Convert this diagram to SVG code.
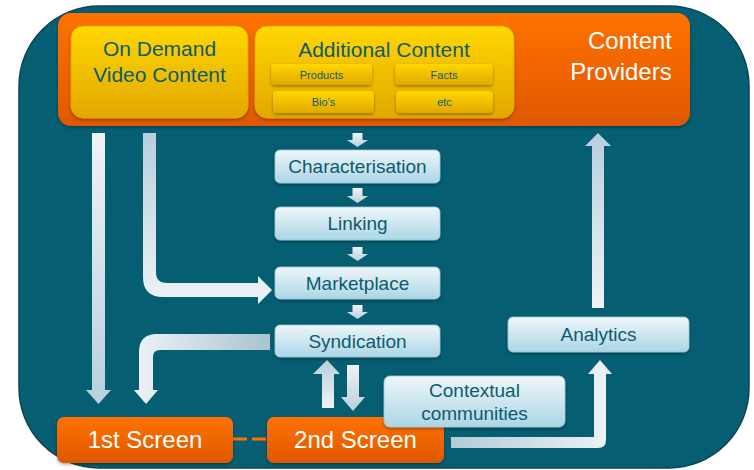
<svg xmlns="http://www.w3.org/2000/svg" width="754" height="470" viewBox="0 0 754 470">
<style>
.t{font-family:"Liberation Sans",Arial,sans-serif;text-anchor:middle}
.dk{fill:#0f5b6e}
.wt{fill:#ffffff}
.proc{fill:url(#gBox);stroke:#9cc6d6;stroke-width:0.8}
.arr{fill:url(#gArrV)}
</style>
<defs>
<linearGradient id="gOr" x1="0" y1="0" x2="0" y2="1"><stop offset="0" stop-color="#ff7200"/><stop offset="1" stop-color="#e05800"/></linearGradient>
<linearGradient id="gYe" x1="0" y1="0" x2="0" y2="1"><stop offset="0" stop-color="#ffd700"/><stop offset="1" stop-color="#e2a800"/></linearGradient>
<linearGradient id="gBox" x1="0" y1="0" x2="0" y2="1"><stop offset="0" stop-color="#eef6f9"/><stop offset="1" stop-color="#acd6e6"/></linearGradient>
<linearGradient id="gArrV" x1="0" y1="0" x2="0" y2="1"><stop offset="0" stop-color="#eef3f6"/><stop offset="1" stop-color="#b9d0dc"/></linearGradient>
<linearGradient id="gArrV2" x1="0" y1="0" x2="0" y2="1"><stop offset="0" stop-color="#b8cfdb"/><stop offset="1" stop-color="#eef3f6"/></linearGradient>
<linearGradient id="gArrH" x1="1" y1="0" x2="0" y2="0"><stop offset="0" stop-color="#a9c3d1"/><stop offset="1" stop-color="#eef3f6"/></linearGradient>
<linearGradient id="gArrH2" x1="0" y1="0" x2="1" y2="0"><stop offset="0" stop-color="#b3cbd8"/><stop offset="1" stop-color="#eef3f6"/></linearGradient>
<filter id="sh" x="-10%" y="-10%" width="120%" height="130%"><feDropShadow dx="0" dy="1.5" stdDeviation="1.5" flood-color="#000" flood-opacity="0.35"/></filter>
</defs>
<rect x="19" y="6" width="730" height="462" rx="80" ry="80" fill="#065e72" stroke="#0b4656" stroke-width="1.5"/>

<g id="content-providers">
<rect x="58" y="13" width="632" height="113" rx="13" fill="url(#gOr)" filter="url(#sh)"/>
<text class="t wt" x="630" y="49" font-size="24">Content</text>
<text class="t wt" x="621" y="80" font-size="24">Providers</text>
</g>

<g id="on-demand">
<rect x="71" y="26" width="177" height="92" rx="12" fill="url(#gYe)" stroke="#e8a400" stroke-width="1" filter="url(#sh)"/>
<text class="t dk" x="159.5" y="56" font-size="21">On Demand</text>
<text class="t dk" x="159.5" y="82" font-size="21">Video Content</text>
</g>

<g id="additional-content">
<rect x="255" y="26" width="259" height="92" rx="12" fill="url(#gYe)" stroke="#e8a400" stroke-width="1" filter="url(#sh)"/>
<text class="t dk" x="384" y="57" font-size="21">Additional Content</text>
<g id="products"><rect x="271" y="64" width="101" height="21" rx="4" fill="url(#gYe)" filter="url(#sh)"/><text class="t dk" x="321.5" y="78.5" font-size="11">Products</text></g>
<g id="bios"><rect x="273" y="91" width="101" height="22" rx="4" fill="url(#gYe)" filter="url(#sh)"/><text class="t dk" x="323.5" y="106" font-size="11">Bio’s</text></g>
<g id="facts"><rect x="395" y="64" width="98" height="21" rx="4" fill="url(#gYe)" filter="url(#sh)"/><text class="t dk" x="444" y="78.5" font-size="11">Facts</text></g>
<g id="etc"><rect x="396" y="91" width="97" height="22" rx="4" fill="url(#gYe)" filter="url(#sh)"/><text class="t dk" x="444.5" y="106" font-size="11">etc</text></g>
</g>

<g id="connectors">
<polygon class="arr" points="352.5,133 362.5,133 362.5,140 368,140 357.5,147 347,140 352.5,140"/>
<polygon class="arr" points="352.5,188 362.5,188 362.5,196 368,196 357.5,203 347,196 352.5,196"/>
<polygon class="arr" points="352.5,247 362.5,247 362.5,254 368,254 357.5,261 347,254 352.5,254"/>
<polygon class="arr" points="352.5,305 362.5,305 362.5,312 368,312 357.5,319 347,312 352.5,312"/>
<polygon class="arr" points="92,133 105,133 105,390 111,390 98.5,404 86,390 92,390"/>
<path fill="url(#gArrV2)" d="M143,133 L156,133 L156,272 Q156,283 167,283 L258,283 L258,276 L272,290 L258,304 L258,297 L163,297 Q143,297 143,277 Z"/>
<path fill="url(#gArrH)" d="M270,334 L270,350 L160,350 Q153,350 153,357 L153,390 L158,390 L146,404 L134,390 L139,390 L139,352 Q139,334 157,334 Z"/>
<polygon fill="url(#gArrV2)" points="322,408 334,408 334,374 340,374 327,360 313,374 322,374"/>
<polygon class="arr" points="347,365 359,365 359,397 365,397 353,411 341,397 347,397"/>
<path fill="url(#gArrH2)" d="M451,437 L594,437 L594,374 L588,374 L600,360 L612,374 L606,374 L606,440 Q606,448 598,448 L451,448 Z"/>
<polygon fill="url(#gArrV2)" points="592,308 604,308 604,146 611,146 598,133 585,146 592,146"/>
<line x1="233" y1="439" x2="267" y2="439" stroke="#ff7000" stroke-width="3" stroke-dasharray="14 5"/>
</g>

<g id="characterisation"><rect class="proc" x="275" y="150" width="165" height="33" rx="5" filter="url(#sh)"/><text class="t dk" x="357.5" y="173" font-size="19">Characterisation</text></g>
<g id="linking"><rect class="proc" x="275" y="207" width="165" height="33" rx="5" filter="url(#sh)"/><text class="t dk" x="357.5" y="230" font-size="19">Linking</text></g>
<g id="marketplace"><rect class="proc" x="275" y="267" width="165" height="32" rx="5" filter="url(#sh)"/><text class="t dk" x="357.5" y="290" font-size="19">Marketplace</text></g>
<g id="syndication"><rect class="proc" x="275" y="325" width="165" height="32" rx="5" filter="url(#sh)"/><text class="t dk" x="357.5" y="348" font-size="19">Syndication</text></g>
<g id="analytics"><rect class="proc" x="508" y="317" width="181" height="35" rx="5" filter="url(#sh)"/><text class="t dk" x="598.5" y="341" font-size="19">Analytics</text></g>

<g id="first-screen"><rect x="57" y="417" width="176" height="46" rx="7" fill="url(#gOr)" filter="url(#sh)"/><text class="t wt" x="145" y="448" font-size="24">1st Screen</text></g>
<g id="second-screen"><rect x="267" y="417" width="177" height="46" rx="7" fill="url(#gOr)" filter="url(#sh)"/><text class="t wt" x="355.5" y="448" font-size="24">2nd Screen</text></g>
<g id="contextual-communities"><rect class="proc" x="384" y="376" width="181" height="51" rx="6" filter="url(#sh)"/><text class="t dk" x="474.5" y="397" font-size="19">Contextual</text><text class="t dk" x="474.5" y="420" font-size="19">communities</text></g>
</svg>
